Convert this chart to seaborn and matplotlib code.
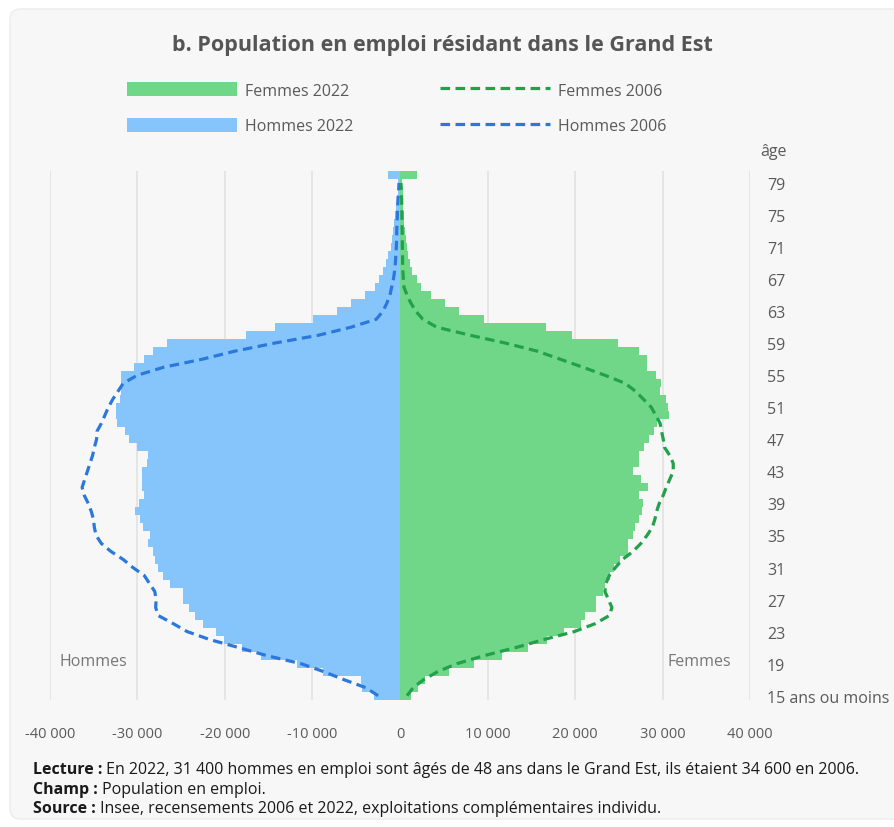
import matplotlib
matplotlib.use("Agg")
import matplotlib.pyplot as plt
import seaborn as sns
import numpy as np
import pandas as pd
from matplotlib.patches import Patch, FancyBboxPatch
from matplotlib.lines import Line2D

# ages 15 (15 ans ou moins) -> 80
ages = list(range(15, 81))

hommes_2022 = [
    -2970, -4300, -4460, -8800, -11770, -15890, -18060, -20120, -21030, -22520,
    -23430, -24120, -24800, -24800, -26290, -27090, -27660, -28000, -28230, -28800,
    -28600, -29380, -29720, -30270, -29790, -29220, -29450, -29450, -29450, -28880,
    -28770, -30020, -30930, -31400, -32320, -32420, -32420, -32000, -31850, -31900,
    -31850, -30360, -29220, -28200, -26600, -17580, -14270, -9970, -7190, -5600,
    -3960, -2850, -2400, -1900, -1560, -1330, -1060, -870, -760, -650,
    -530, -450, -380, -270, -200, -1370,
]
femmes_2022 = [
    1260, 2000, 2900, 5600, 8450, 11650, 14620, 16790, 18730, 20660,
    21120, 22370, 22370, 23170, 23400, 23970, 24430, 25110, 26030, 26030,
    26600, 26830, 27280, 27600, 27800, 27280, 28310, 27510, 26600, 27280,
    27280, 27850, 28420, 29000, 29300, 30700, 30600, 30400, 29700, 29790,
    29200, 28200, 28200, 27260, 24860, 19620, 16670, 9590, 6730, 5140,
    3540, 2400, 1900, 1350, 1100, 950, 800, 680, 570, 500,
    420, 380, 340, 300, 250, 1940,
]

# 2006 : ages 15 -> 79
ages_2006 = list(range(15, 80))
hommes_2006 = [
    -2500, -3900, -6400, -8700, -11300, -15200, -18400, -21700, -24300, -25900,
    -27600, -27900, -27850, -28000, -28600, -29200, -30500, -31600, -33000, -34100,
    -34700, -34900, -35000, -35250, -35600, -36050, -36300, -36000, -35700, -35400,
    -35100, -34900, -34650, -34600, -34100, -33700, -33300, -32800, -32200, -31600,
    -30000, -27000, -22600, -18900, -14400, -9300, -5600, -2700, -1950, -1500,
    -1150, -950, -750, -620, -530, -470, -420, -390, -370, -340,
    -300, -270, -230, -160, -110,
]
femmes_2006 = [
    800, 1500, 2700, 4300, 6500, 9600, 13200, 16400, 19900, 22300,
    23900, 24200, 23800, 23400, 23500, 23900, 24600, 25400, 26600, 27500,
    28200, 28800, 29100, 29300, 29600, 30050, 30400, 30800, 31200, 31200,
    30800, 30200, 30060, 29870, 29700, 29200, 28700, 27800, 26900, 25700,
    23400, 20900, 18300, 15700, 12100, 8000, 4200, 2600, 1800, 1250,
    800, 450, 380, 330, 300, 290, 270, 260, 250, 230,
    220, 200, 190, 150, 110,
]

x_ticks = [-40000, -30000, -20000, -10000, 0, 10000, 20000, 30000, 40000]
y_ticks = list(range(15, 80, 4))

col_f22 = "#70d789"
col_h22 = "#86c5fc"
col_f06 = "#22a04b"
col_h06 = "#2b78dd"
txt_gray = "#5a5a5a"

bars = pd.DataFrame({
    "age": ages + ages,
    "valeur": hommes_2022 + femmes_2022,
    "serie": ["Hommes 2022"] * len(ages) + ["Femmes 2022"] * len(ages),
})

sns.set_theme(style="white")
plt.rcParams["font.family"] = ["Open Sans", "DejaVu Sans"]

W, H = 895, 828
fig = plt.figure(figsize=(W / 100, H / 100), dpi=100)
fig.patch.set_facecolor("white")

# card background
card = FancyBboxPatch((10 / W, 1 - 820 / H), (W + 20) / W, 810 / H,
                      boxstyle="round,pad=0,rounding_size=0.012",
                      transform=fig.transFigure, facecolor="#f7f7f7",
                      edgecolor="#ececec", linewidth=1, zorder=-10)
fig.patches.append(card)

ax = fig.add_axes([49.7 / W, 1 - 700.7 / H, (750.3 - 49.7) / W, (700.7 - 172) / H])
ax.set_zorder(1)
ax.set_facecolor("none")

# pyramid bars 2022
sns.barplot(data=bars, x="valeur", y="age", hue="serie", orient="h",
            native_scale=True, width=1, dodge=False, linewidth=0, saturation=1,
            palette={"Hommes 2022": col_h22, "Femmes 2022": col_f22},
            legend=False, ax=ax, zorder=2)

# 2006 dashed profiles
dash = (0, (3, 1.7))
sns.lineplot(x=hommes_2006, y=ages_2006, orient="y", color=col_h06,
             linewidth=2.3, linestyle=dash, ax=ax, zorder=3)
sns.lineplot(x=femmes_2006, y=ages_2006, orient="y", color=col_f06,
             linewidth=2.3, linestyle=dash, ax=ax, zorder=3)

ax.set_xlim(-40000, 40000)
ax.set_ylim(14.5, 80.5)
ax.set_xlabel("")
ax.set_ylabel("")

ax.set_xticks(x_ticks)
ax.set_xticklabels([f"{v:,}".replace(",", " ") for v in x_ticks])
ax.yaxis.tick_right()
ax.set_yticks(y_ticks)
ax.set_yticklabels(["15 ans ou moins" if a == 15 else str(a) for a in y_ticks],
                   ha="left")
ax.tick_params(axis="x", length=0, pad=19, labelsize=10.5, labelcolor=txt_gray)
ax.tick_params(axis="y", length=0, pad=12, labelsize=11.5, labelcolor=txt_gray)

ax.grid(axis="x", color="#e2e2e2", linewidth=1.2, zorder=0)
ax.grid(axis="y", visible=False)
ax.set_axisbelow(True)
for s in ax.spines.values():
    s.set_visible(False)

ax.text(-35000, 19.3, "Hommes", ha="center", va="center", fontsize=11.5,
        color="#777777", zorder=4)
ax.text(34200, 19.3, "Femmes", ha="center", va="center", fontsize=11.5,
        color="#777777", zorder=4)

fig.text(760 / W, 1 - 152 / H, "âge", ha="left", va="center", fontsize=11.5,
         color=txt_gray)

fig.text(442 / W, 1 - 46 / H, "b. Population en emploi résidant dans le Grand Est",
         ha="center", va="center", fontsize=15.5, fontweight="bold", color="#555555")

handles = [
    Patch(facecolor=col_f22, edgecolor="none"),
    Patch(facecolor=col_h22, edgecolor="none"),
    Line2D([], [], color=col_f06, linewidth=2.3, linestyle=dash),
    Line2D([], [], color=col_h06, linewidth=2.3, linestyle=dash),
]
labels = ["Femmes 2022", "Hommes 2022", "Femmes 2006", "Hommes 2006"]
leg = fig.legend(handles, labels, loc="upper left", ncol=2, frameon=False,
                 bbox_to_anchor=(127 / W, 1 - 83 / H), borderpad=0,
                 borderaxespad=0, fontsize=11.5, handlelength=6.9,
                 handleheight=1.0, handletextpad=0.5, columnspacing=5.4,
                 labelspacing=1.2)
for t in leg.get_texts():
    t.set_color(txt_gray)

# footer
renderer = fig.canvas.get_renderer()
notes = [
    ("Lecture :", " En 2022, 31 400 hommes en emploi sont âgés de 48 ans dans le Grand Est, ils étaient 34 600 en 2006.", 770),
    ("Champ :", " Population en emploi.", 790),
    ("Source :", " Insee, recensements 2006 et 2022, exploitations complémentaires individu.", 809),
]
for bold, rest, ypix in notes:
    t = fig.text(33 / W, 1 - ypix / H, bold, ha="left", va="center",
                 fontsize=11.5, fontweight="bold", color="#1a1a1a")
    bb = t.get_window_extent(renderer=renderer)
    fig.text(bb.x1 / W, 1 - ypix / H, rest, ha="left", va="center",
             fontsize=11.5, color="#1a1a1a")

fig.savefig("out.png", dpi=100)
